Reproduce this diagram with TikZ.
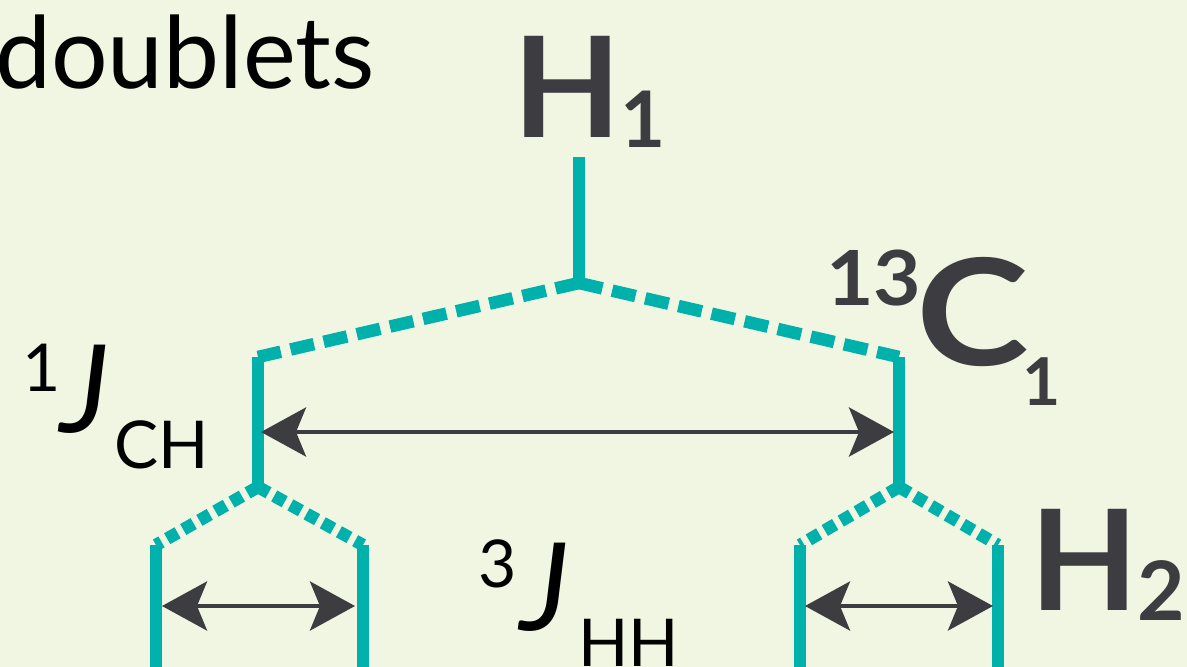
\documentclass[tikz,border=0pt]{standalone}
\usepackage{fontspec}
\setmainfont{Lato}
\usetikzlibrary{arrows.meta}
\definecolor{bg}{HTML}{F1F6E3}
\definecolor{teal}{HTML}{00B0AA}
\definecolor{ink}{HTML}{3D3C41}
\tikzset{
  x=1pt,y=-1pt,
  lbl/.style={inner sep=0pt,anchor=base west,text=ink},
  jlbl/.style={inner sep=0pt,anchor=base west,text=black},
  solidline/.style={draw=teal,line width=12.5pt},
  dashline/.style={draw=teal,line width=12.5pt,dash pattern=on 24pt off 10pt},
  dotline/.style={draw=teal,line width=12.5pt,dash pattern=on 12pt off 6.5pt},
  splitarrow/.style={draw=ink,line width=4.5pt,{Stealth[length=45pt,width=49pt,inset=10pt]}-{Stealth[length=45pt,width=49pt,inset=10pt]}}
}
\newcommand{\fs}[1]{\fontsize{#1}{#1}\selectfont}
\begin{document}
\begin{tikzpicture}
\fill[bg] (0,0) rectangle (1187,667);
\useasboundingbox (0,0) rectangle (1187,667);
% coordinates
\coordinate (top) at (579,157);
\coordinate (n1) at (579,283);
\coordinate (aL) at (258,357);
\coordinate (aR) at (899,357);
\coordinate (bL) at (258,487);
\coordinate (bR) at (899,487);
\coordinate (cLL) at (156,545);
\coordinate (cLR) at (363,545);
\coordinate (cRL) at (800,545);
\coordinate (cRR) at (998,545);
\coordinate (dLL) at (156,667);
\coordinate (dLR) at (363,667);
\coordinate (dRL) at (800,667);
\coordinate (dRR) at (998,667);
% tree
\draw[solidline] (top) -- (n1);
\draw[dashline] (n1) -- (aL);
\draw[dashline] (n1) -- (aR);
\draw[solidline] (aL) -- (bL);
\draw[solidline] (aR) -- (bR);
\draw[dotline] (bL) -- (cLL);
\draw[dotline] (bL) -- (cLR);
\draw[dotline] (bR) -- (cRL);
\draw[dotline] (bR) -- (cRR);
\draw[solidline] (cLL) -- (dLL);
\draw[solidline] (cLR) -- (dLR);
\draw[solidline] (cRL) -- (dRL);
\draw[solidline] (cRR) -- (dRR);
% arrows
\coordinate (u1) at (261,432);
\coordinate (u2) at (894,432);
\coordinate (l1) at (162,606);
\coordinate (l2) at (355,606);
\coordinate (r1) at (805,606);
\coordinate (r2) at (993,606);
\draw[splitarrow] (u1) -- (u2);
\draw[splitarrow] (l1) -- (l2);
\draw[splitarrow] (r1) -- (r2);
% texts
\node[lbl,text=black] (title) at (-5,88) {\fs{100}doublets};
\node[lbl] (h1) at (513,137) {\fs{140}\bfseries H};
\node[lbl] (h1s) at (620,147) {\fs{78}\bfseries 1};
\node[lbl,xscale=1.08] (c13) at (826,305) {\fs{76}\bfseries 13};
\node[lbl,xscale=1.15] (c1) at (916,365) {\fs{148}\bfseries C};
\node[lbl] (c1s) at (1022,405) {\fs{66}\bfseries 1};
\node[jlbl] (jch1) at (22,391) {\fs{66}1};
\node[jlbl] (jch) at (60,432) {\fs{122}\itshape J};
\node[jlbl] (jchs) at (114,468) {\fs{66}CH};
\node[jlbl] (jhh3) at (478,587) {\fs{66}3};
\node[jlbl] (jhh) at (520,630) {\fs{122}\itshape J};
\node[jlbl] (jhhs) at (578,666) {\fs{66}HH};
\node[lbl] (h2) at (1030,610) {\fs{140}\bfseries H};
\node[lbl] (h2s) at (1137,620) {\fs{82}\bfseries 2};
\end{tikzpicture}
\end{document}
